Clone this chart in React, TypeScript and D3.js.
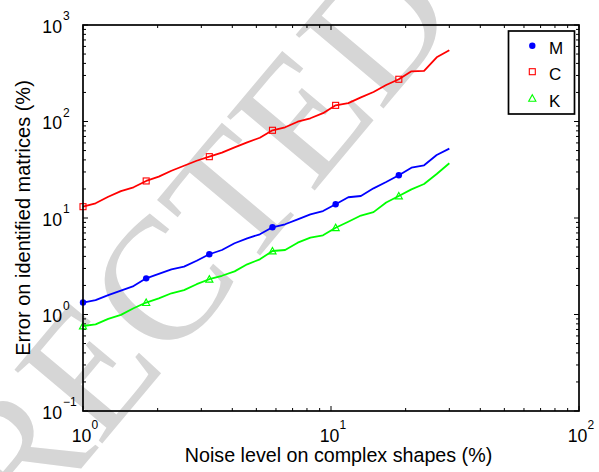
import React from "react";
import * as d3 from "d3";

// Noise level (%) – 30 log-spaced samples
const noise = [
  1.0, 1.124, 1.264, 1.422, 1.599, 1.798, 2.021, 2.273, 2.555, 2.873,
  3.231, 3.633, 4.085, 4.593, 5.165, 5.808, 6.53, 7.341, 8.257, 9.285,
  10.44, 11.74, 13.2, 14.84, 16.69, 18.77, 21.1, 23.73, 26.68, 30.0,
];

const errM = [
  1.33, 1.41, 1.59, 1.77, 1.97, 2.37, 2.63, 2.94, 3.13, 3.61,
  4.21, 4.66, 5.47, 6.16, 6.78, 8.01, 8.61, 9.69, 10.9, 11.8,
  13.9, 16.4, 16.9, 20.3, 23.6, 27.7, 33.2, 35.2, 45.0, 52.3,
];

const errC = [
  13.1, 14.2, 16.6, 19.0, 20.8, 24.2, 26.8, 30.9, 34.8, 39.2,
  43.2, 47.5, 54.0, 60.8, 67.9, 81.1, 87.1, 99.5, 108, 122,
  147, 155, 178, 202, 239, 274, 331, 334, 463, 547,
];

const errK = [
  0.76, 0.79, 0.9, 0.99, 1.16, 1.33, 1.47, 1.66, 1.79, 2.06,
  2.32, 2.52, 2.8, 3.31, 3.73, 4.55, 4.66, 5.55, 6.25, 6.62,
  7.93, 9.15, 10.6, 11.5, 14.5, 16.9, 19.8, 22.5, 28.6, 36.9,
];

const markerIdx = [0, 5, 10, 15, 20, 25];

const seriesNames = ["M", "C", "K"];
const seriesColors = ["#0000ff", "#ff0000", "#00ff00"];
const seriesMarkers = ["circle", "square", "triangle"];
const seriesValues = [errM, errC, errK];

const xDomain = [1, 100];
const yDomain = [0.1, 1000];
const xTickExps = ["0", "1", "2"];
const yTickExps = ["\u22121", "0", "1", "2", "3"];

const xLabel = "Noise level on complex shapes (%)";
const yLabel = "Error on identified matrices (%)";
const watermark = "UNCORRECTED PROOF";

const W = 599;
const H = 472;
const L = 83;
const R = 579;
const T = 25;
const B = 411;

const FONT = "Liberation Sans, Arial, Helvetica, sans-serif";

function Marker({ kind, x, y, color }: { kind: string; x: number; y: number; color: string }) {
  if (kind === "circle") return <circle cx={x} cy={y} r={3.2} fill={color} />;
  if (kind === "square")
    return <rect x={x - 3} y={y - 3} width={6} height={6} fill="none" stroke={color} strokeWidth={1.1} />;
  const s = 3.6;
  return (
    <path
      d={`M${x},${y - s}L${x + s},${y + s * 0.8}L${x - s},${y + s * 0.8}Z`}
      fill="none"
      stroke={color}
      strokeWidth={1.1}
    />
  );
}

export default function App() {
  const x = d3.scaleLog().domain(xDomain).range([L, R]);
  const y = d3.scaleLog().domain(yDomain).range([B, T]);

  const xTicks = x.ticks();
  const yTicks = y.ticks();
  const isMajor = (v: number) => Math.abs(Math.log10(v) - Math.round(Math.log10(v))) < 1e-9;

  const line = d3
    .line<number>()
    .x((_, i) => x(noise[i]))
    .y((d) => y(d));

  const xMajors = xTicks.filter(isMajor);
  const yMajors = yTicks.filter(isMajor);

  const legendX = 508.5;
  const legendY = 31;
  const legendW = 66;
  const legendH = 83;
  const legendRows = [45.7, 71.7, 98.3];

  const wmX = 196;
  const wmY = 240;

  return (
    <svg
      width={W}
      height={H}
      style={{ position: "absolute", left: 0, top: 0, display: "block", background: "#fff" }}
      fontFamily={FONT}
    >
      {/* watermark */}
      <text
        x={wmX}
        y={wmY}
        transform={`rotate(-50 ${wmX} ${wmY})`}
        fontFamily="Liberation Serif, Times New Roman, serif"
        fontSize={175}
        fill="#d6d6d6"
        textAnchor="middle"
        dominantBaseline="central"
      >
        {watermark}
      </text>

      {/* ticks */}
      <g stroke="#000" strokeWidth={1}>
        {xTicks.map((t, i) => {
          const len = isMajor(t) ? 5 : 3;
          const px = x(t);
          return (
            <g key={"xt" + i}>
              <line x1={px} x2={px} y1={B} y2={B - len} />
              <line x1={px} x2={px} y1={T} y2={T + len} />
            </g>
          );
        })}
        {yTicks.map((t, i) => {
          const len = isMajor(t) ? 5 : 3;
          const py = y(t);
          return (
            <g key={"yt" + i}>
              <line x1={L} x2={L + len} y1={py} y2={py} />
              <line x1={R} x2={R - len} y1={py} y2={py} />
            </g>
          );
        })}
      </g>

      {/* series */}
      {seriesValues.map((vals, s) => (
        <g key={"s" + s}>
          <path d={line(vals) || ""} fill="none" stroke={seriesColors[s]} strokeWidth={1.8} strokeLinejoin="round" />
          {markerIdx.map((mi) => (
            <Marker key={mi} kind={seriesMarkers[s]} x={x(noise[mi])} y={y(vals[mi])} color={seriesColors[s]} />
          ))}
        </g>
      ))}

      {/* frame */}
      <rect x={L} y={T} width={R - L} height={B - T} fill="none" stroke="#000" strokeWidth={1.7} />

      {/* x tick labels */}
      {xMajors.map((t, i) => {
        const px = x(t) - 1.5;
        return (
          <g key={"xl" + i}>
            <text x={px} y={B + 30.7} fontSize={17.7} textAnchor="middle" fill="#000">
              10
            </text>
            <text x={px + 10} y={B + 17.5} fontSize={12} textAnchor="start" fill="#000">
              {xTickExps[i]}
            </text>
          </g>
        );
      })}

      {/* y tick labels */}
      {yMajors.map((t, i) => {
        const py = y(t);
        return (
          <g key={"yl" + i}>
            <text x={62} y={py + 7.8} fontSize={17.7} textAnchor="end" fill="#000">
              10
            </text>
            <text x={63} y={py - 4.8} fontSize={12} textAnchor="start" fill="#000">
              {yTickExps[i]}
            </text>
          </g>
        );
      })}

      {/* axis labels */}
      <text x={338.5} y={462} fontSize={19.7} textAnchor="middle" fill="#000">
        {xLabel}
      </text>
      <text
        x={0}
        y={0}
        transform={`translate(30, ${(T + B) / 2}) rotate(-90)`}
        fontSize={20}
        textAnchor="middle"
        fill="#000"
      >
        {yLabel}
      </text>

      {/* legend */}
      <rect x={legendX} y={legendY} width={legendW} height={legendH} fill="#fff" stroke="#000" strokeWidth={1.7} />
      {seriesNames.map((n, s) => (
        <g key={"lg" + s}>
          <Marker kind={seriesMarkers[s]} x={532.3} y={legendRows[s]} color={seriesColors[s]} />
          <text x={549} y={legendRows[s] + 8.6} fontSize={17} fill="#000">
            {n}
          </text>
        </g>
      ))}
    </svg>
  );
}
